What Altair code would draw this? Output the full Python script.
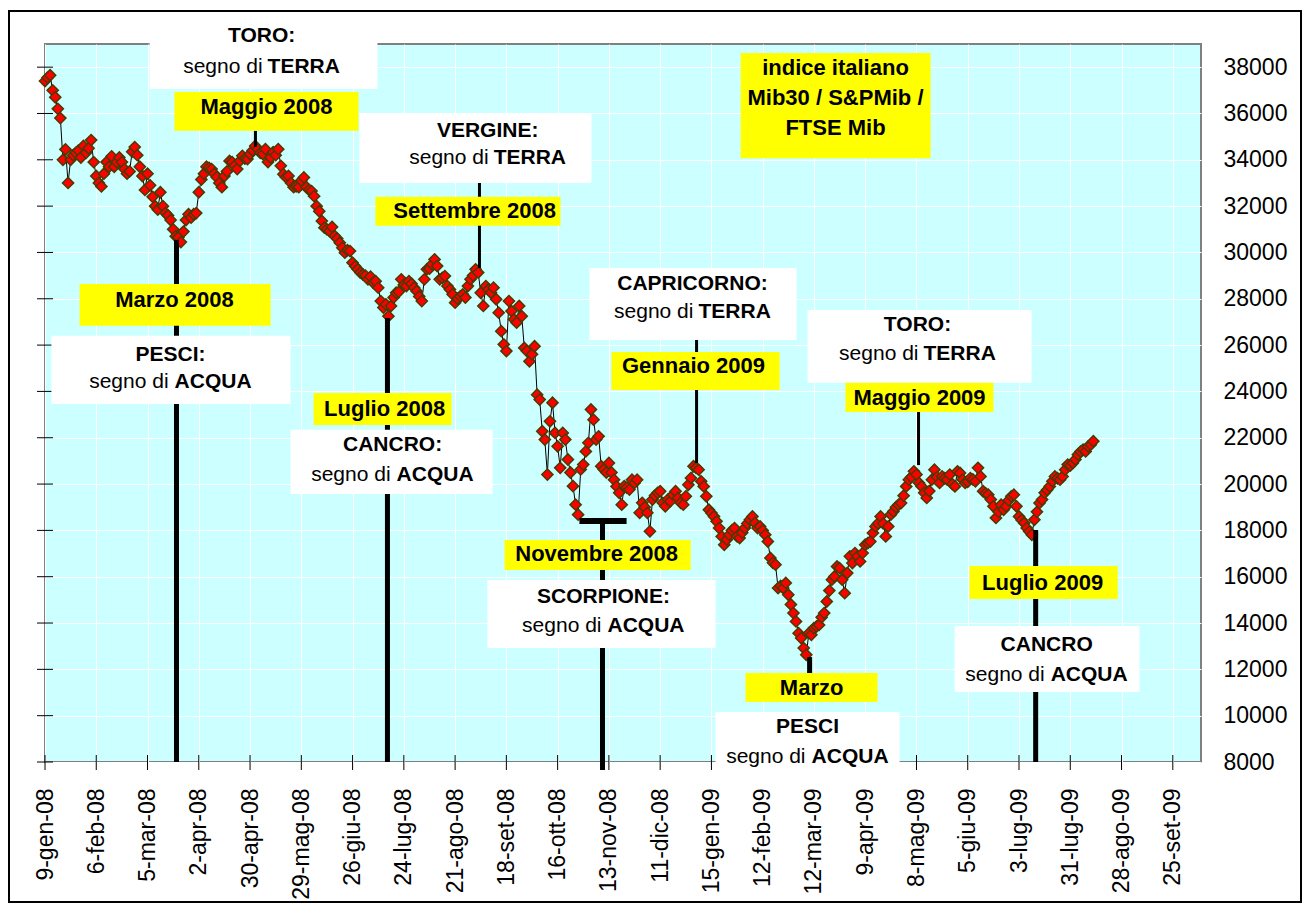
import json
import altair as alt
import pandas as pd

# ---------------- data ----------------
tick_labels = ["9-gen-08", "6-feb-08", "5-mar-08", "2-apr-08", "30-apr-08", "29-mag-08",
               "26-giu-08", "24-lug-08", "21-ago-08", "18-set-08", "16-ott-08", "13-nov-08",
               "11-dic-08", "15-gen-09", "12-feb-09", "12-mar-09", "9-apr-09", "8-mag-09",
               "5-giu-09", "3-lug-09", "31-lug-09", "28-ago-09", "25-set-09"]
x_ticks = list(range(0, 441, 20))
y_ticks = list(range(8000, 38001, 2000))

b00 = [37400, 37550, 37650, 37000, 36700, 36200, 35800, 34000, 34450, 33000, 34000, 34200, 34300, 34400, 34100, 34600, 34300, 34500, 34850, 33900]
b01 = [33300, 33000, 32850, 33400, 33900, 33700, 34150, 33700, 33900, 34100, 33900, 33600, 33400, 33500, 34350, 34550, 34200, 33700, 33300, 32700]
b02 = [33400, 32900, 32400, 32000, 31850, 32600, 32000, 31700, 31600, 31400, 31000, 30700, 30650, 30450, 30900, 31400, 31650, 31500, 31650, 31700]
b03 = [32600, 33150, 33400, 33700, 33650, 33600, 33400, 33250, 33000, 32820, 33300, 33500, 33950, 33900, 33740, 33600, 33950, 34170, 34050, 34030]
b04 = [34250, 34400, 34600, 34460, 34300, 34250, 34460, 33900, 34100, 34330, 34200, 34460, 33740, 33380, 33250, 33300, 33000, 32820, 32850, 32820]
b05 = [33100, 33240, 32820, 32700, 32650, 32430, 32000, 31780, 31360, 31070, 31000, 30920, 31100, 30710, 30600, 30420, 30200, 29990, 30100, 30060]
b06 = [29560, 29400, 29270, 29130, 29050, 29000, 28840, 28950, 28700, 28760, 28480, 27900, 27620, 27760, 27250, 27690, 28050, 28260, 28300, 28840]
b07 = [28600, 28550, 28760, 28650, 28480, 28330, 28100, 27900, 28840, 29270, 29300, 29490, 29700, 29410, 28840, 28900, 28980, 28550, 28400, 28190]
b08 = [27830, 28000, 28100, 28190, 28050, 28550, 28840, 29000, 29270, 29130, 28260, 27690, 28550, 28400, 28260, 28480, 27980, 27400, 26600, 26030]
b09 = [25740, 27900, 27470, 27110, 26970, 27690, 27250, 25880, 25740, 25300, 25600, 25950, 23860, 23650, 22280, 21920, 20410, 22710, 23510, 22210]
b10 = [21630, 20700, 22210, 21920, 21060, 20500, 19910, 19110, 18680, 20630, 20840, 21410, 21780, 23220, 22780, 21920, 22060, 20770, 20630, 20500]
b11 = [20910, 20500, 20190, 19900, 19620, 19110, 19910, 19850, 19760, 20190, 20050, 20190, 18760, 19190, 19000, 18760, 17960, 19330, 19500, 19620]
b12 = [19690, 19190, 19040, 19330, 19260, 19540, 19690, 19400, 19190, 19110, 19470, 19970, 20260, 20770, 20700, 20620, 20120, 19900, 19470, 18890]
b13 = [18750, 18600, 18390, 18100, 17740, 17380, 17600, 17810, 18000, 18100, 17740, 17670, 17900, 18100, 18300, 18460, 18600, 18320, 18100, 18170]
b14 = [18000, 17810, 17520, 16810, 16600, 16520, 15510, 15600, 15510, 15730, 15220, 14800, 14430, 14070, 13560, 13350, 12920, 12630, 13560, 13490]
b15 = [13780, 13850, 13920, 14250, 14430, 14930, 15400, 15870, 16010, 16440, 16370, 15870, 15290, 16160, 16880, 16590, 17020, 16880, 16660, 17020]
b16 = [17380, 17450, 17520, 17890, 18170, 18300, 18600, 18300, 17740, 18170, 18680, 18820, 19000, 19110, 19180, 19500, 19900, 20190, 20300, 20550]
b17 = [20410, 20050, 19900, 19620, 19400, 19700, 20190, 20620, 20300, 20050, 20330, 20250, 20190, 20410, 20000, 19900, 20550, 20480, 20190, 20050]
b18 = [20100, 20260, 20200, 20120, 20700, 20330, 19690, 19600, 19540, 19330, 19040, 18540, 18800, 19110, 18890, 19040, 19300, 19470, 19540, 19040]
b19 = [18600, 18450, 18320, 18100, 17950, 17810, 18460, 18800, 19180, 19330, 19620, 19750, 19900, 20120, 20330, 20250, 20190, 20330, 20620, 20840]
b20 = [20800, 20910, 21060, 21270, 21400, 21490, 21410, 21630, 21700, 21850]

values = (b00 + b01 + b02 + b03 + b04 + b05 + b06 + b07 + b08 + b09 + b10 +
          b11 + b12 + b13 + b14 + b15 + b16 + b17 + b18 + b19 + b20)
days = list(range(len(values)))

# annotation lines (trading-day index, index value from / to)
thick_x = [51.3, 133.6, 217.5, 298.3, 386.5]
thick_y1 = [30540, 27170, 18410, 12530, 18020]
thick_y2 = [8000, 8000, 7650, 11840, 8000]
thin_x = [82.1, 169.5, 254.2, 340.8]
thin_y1 = [35250, 33000, 26220, 23110]
thin_y2 = [34560, 29330, 20910, 20820]
bar_x1 = [208.5]
bar_x2 = [226.9]
bar_y = [18410]

# annotation boxes
box_x1 = [40.8, 50.5, 122.7, 128.9, 271.4, 13.5, 2.5, 104.8, 95.8, 212.4, 221.0, 179.3, 172.6, 297.5, 312.3, 360.7, 354.9, 273.3, 261.6]
box_x2 = [129.7, 122.3, 213.2, 201.1, 345.5, 88.0, 95.8, 158.6, 174.6, 293.2, 286.6, 251.9, 261.6, 384.9, 370.0, 418.5, 427.0, 324.8, 333.4]
box_y1 = [39950, 36930, 36020, 32400, 38610, 28640, 26400, 23930, 22340, 29330, 25700, 17590, 15860, 27520, 24370, 16460, 13870, 11840, 10160]
box_y2 = [37060, 35250, 33000, 31150, 34070, 26830, 23460, 22550, 19570, 26220, 24060, 16290, 12920, 24370, 23110, 15040, 11020, 10590, 7570]
box_kind = ["w", "y", "w", "y", "y", "y", "w", "y", "w", "w", "y", "y", "w", "w", "y", "y", "w", "y", "w"]

# texts
sign_x = [84.5, 172.7, 49.0, 135.6, 252.6, 217.9, 340.4, 390.8, 297.5]
sign_y = [39350, 35250, 25570, 21690, 28640, 15120, 26870, 13050, 9510]
sign_name = ["TORO:", "VERGINE:", "PESCI:", "CANCRO:", "CAPRICORNO:", "SCORPIONE:", "TORO:", "CANCRO", "PESCI"]
elem_x = [84.5, 172.7, 49.0, 135.6, 252.6, 217.9, 340.4, 390.8, 297.5]
elem_y = [38010, 34080, 24410, 20390, 27430, 13870, 25620, 11760, 8220]
elem_word = ["TERRA", "TERRA", "ACQUA", "ACQUA", "TERRA", "ACQUA", "TERRA", "ACQUA", "ACQUA"]
lab_x = [86.4, 167.6, 308.4, 308.4, 308.4, 50.5, 132.5, 253.0, 215.2, 341.2, 389.2, 299.1]
lab_y = [36270, 31790, 37950, 36660, 35360, 27950, 23240, 25100, 16980, 23720, 15730, 11200]
lab_text = ["Maggio 2008", "Settembre 2008", "indice italiano", "Mib30 / S&PMib /", "FTSE Mib",
            "Marzo 2008", "Luglio 2008", "Gennaio 2009", "Novembre  2008", "Maggio 2009",
            "Luglio 2009", "Marzo"]

# ---------------- chart ----------------
W, H = 1156, 718
FONT = "Liberation Sans"

df = pd.DataFrame({"day": days, "value": values})
xs = alt.Scale(domain=[0, 451], nice=False, zero=False)
ys = alt.Scale(domain=[8000, 39000], nice=False, zero=False)

label_expr = json.dumps(tick_labels) + "[round(datum.value / 20)]"
x_axis = alt.Axis(values=x_ticks, labelExpr=label_expr, labelAngle=270, labelAlign="right",
                  labelBaseline="middle", labelFontSize=23, labelFont=FONT, labelColor="black",
                  ticks=False, domain=False, grid=True, gridColor="white", gridWidth=1,
                  gridOpacity=1, labelPadding=26, title=None, labelOverlap=False)
y_axis = alt.Axis(orient="right", values=y_ticks, format="d", labelFontSize=23, labelFont=FONT,
                  labelColor="black", labelAlign="left", labelBaseline="middle", ticks=False,
                  domain=False, grid=True, gridColor="white", gridWidth=1, gridOpacity=1,
                  labelPadding=22, title=None, labelOverlap=False)


def X(field):
    return alt.X(field, scale=xs, axis=x_axis)


def Y(field):
    return alt.Y(field, scale=ys, axis=y_axis)


base = alt.Chart(df)
line = base.mark_line(color="black", strokeWidth=1).encode(x=X("day:Q"), y=Y("value:Q"))
points = base.mark_point(shape="diamond", filled=True, size=125, fill="#FF0000",
                         stroke="#4a3a00", strokeWidth=1.5, opacity=1).encode(
    x=X("day:Q"), y=Y("value:Q"))

# crossing tick marks
xt = alt.Chart(pd.DataFrame({"t": x_ticks})).mark_rule(color="black", strokeWidth=1).encode(
    x=X("t:Q"), y=alt.value(H - 7), y2=alt.value(H + 8))
yt = alt.Chart(pd.DataFrame({"v": y_ticks})).mark_rule(color="black", strokeWidth=1).encode(
    y=Y("v:Q"), x=alt.value(-8), x2=alt.value(8))

thick = alt.Chart(pd.DataFrame({"x": thick_x, "y1": thick_y1, "y2": thick_y2})).mark_rule(
    color="black", strokeWidth=5).encode(x=X("x:Q"), y=Y("y1:Q"), y2="y2:Q")
thin = alt.Chart(pd.DataFrame({"x": thin_x, "y1": thin_y1, "y2": thin_y2})).mark_rule(
    color="black", strokeWidth=3).encode(x=X("x:Q"), y=Y("y1:Q"), y2="y2:Q")
bar = alt.Chart(pd.DataFrame({"x1": bar_x1, "x2": bar_x2, "y": bar_y})).mark_rule(
    color="black", strokeWidth=6).encode(x=X("x1:Q"), x2="x2:Q", y=Y("y:Q"))

boxes_df = pd.DataFrame({"x1": box_x1, "x2": box_x2, "y1": box_y1, "y2": box_y2, "k": box_kind})
boxes = alt.Chart(boxes_df).mark_rect(strokeWidth=0).encode(
    x=X("x1:Q"), x2="x2:Q", y=Y("y1:Q"), y2="y2:Q",
    fill=alt.Fill("k:N", scale=alt.Scale(domain=["w", "y"], range=["#FFFFFF", "#FFFF00"]), legend=None),
)

signs = alt.Chart(pd.DataFrame({"x": sign_x, "y": sign_y, "t": sign_name})).mark_text(
    font=FONT, fontSize=21, fontWeight="bold", color="black", align="center", baseline="middle").encode(
    x=X("x:Q"), y=Y("y:Q"), text="t:N")

elem_df = pd.DataFrame({"x": elem_x, "y": elem_y, "w": elem_word})


def seg(word, dx_norm, dx_bold):
    src = alt.Chart(elem_df).transform_filter(alt.datum.w == word)
    a = src.mark_text(font=FONT, fontSize=21, color="black", align="right", baseline="middle",
                      dx=dx_norm, text="segno di").encode(x=X("x:Q"), y=Y("y:Q"))
    b = src.mark_text(font=FONT, fontSize=21, fontWeight="bold", color="black", align="left",
                      baseline="middle", dx=dx_bold).encode(x=X("x:Q"), y=Y("y:Q"), text="w:N")
    return [a, b]


labels = alt.Chart(pd.DataFrame({"x": lab_x, "y": lab_y, "t": lab_text})).mark_text(
    font=FONT, fontSize=22, fontWeight="bold", color="black", align="center", baseline="middle").encode(
    x=X("x:Q"), y=Y("y:Q"), text="t:N")

frame = alt.Chart(pd.DataFrame({"a": [0]})).mark_rect(
    fillOpacity=0, stroke="black", strokeWidth=2).encode(
    x=alt.value(-36), x2=alt.value(1256), y=alt.value(-33), y2=alt.value(858))

chart = alt.layer(
    line, points, xt, yt, thick, thin, bar, boxes, signs,
    *seg("TERRA", 1, 6), *seg("ACQUA", -2, 4), labels, frame,
).properties(
    width=W, height=H, autosize="none",
    padding={"left": 37, "top": 36, "right": 101, "bottom": 144},
    background="white",
).configure_view(fill="#CCFFFF", stroke="#808080", strokeWidth=2)

chart.save("out.html", embed_options={"renderer": "svg", "actions": False})
